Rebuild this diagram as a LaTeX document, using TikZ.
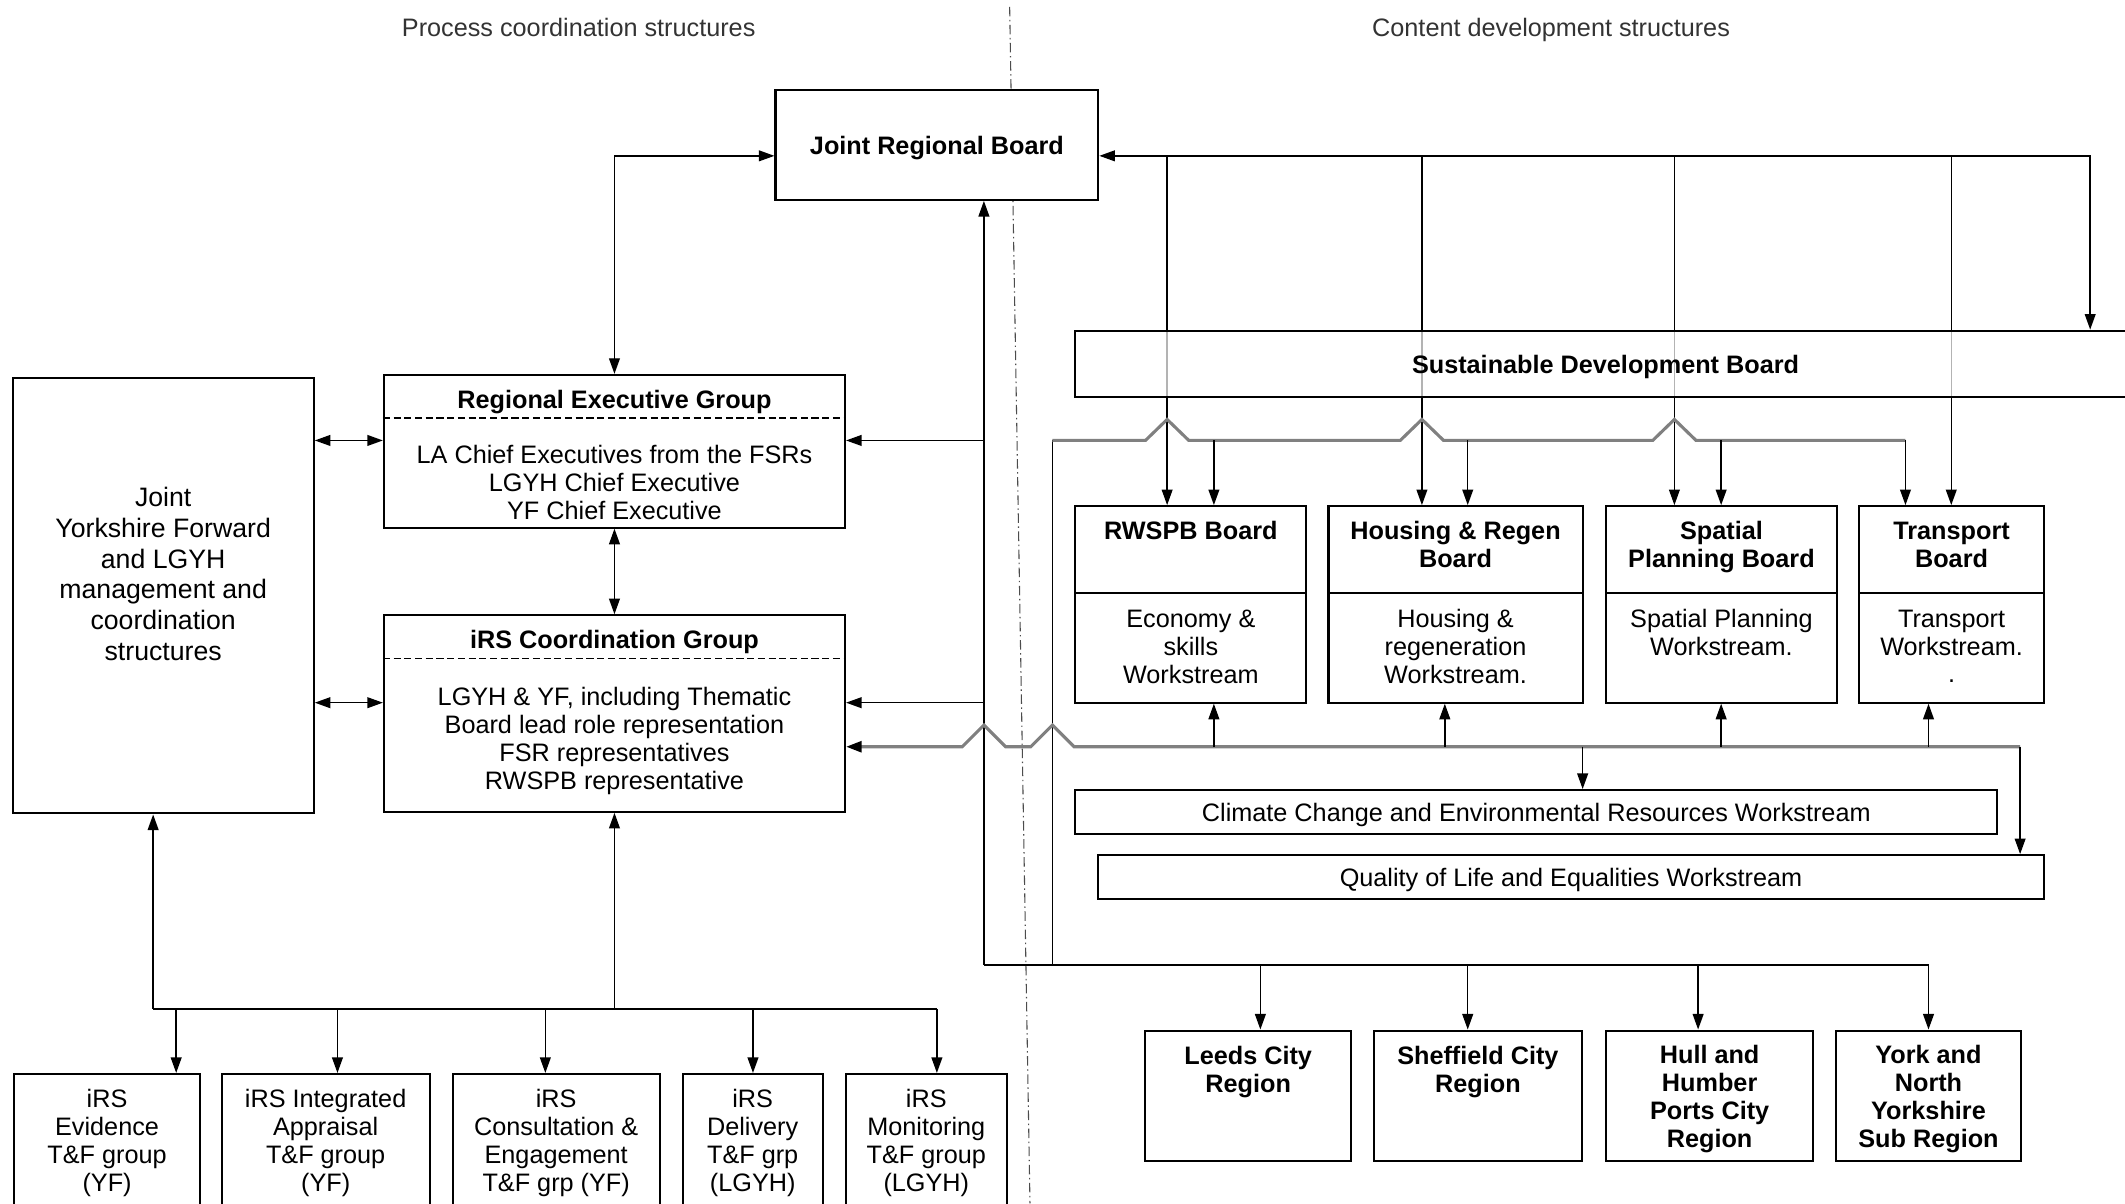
\documentclass[tikz,border=0pt]{standalone}
\usepackage{fontspec}
\setmainfont{Liberation Sans}
\usetikzlibrary{arrows.meta}
\pgfdeclarelayer{bg}
\pgfsetlayers{bg,main}

\begin{document}
\begin{tikzpicture}[x=0.02cm,y=-0.02cm,
    >={Triangle[length=2.3mm,width=1.6mm]},
    every node/.style={inner sep=0pt,align=center,text depth=0pt,font=\fontsize{10.6}{11.7}\selectfont},
    hd/.style={font=\fontsize{10.6}{11.7}\selectfont\bfseries},
    box/.style={draw,fill=white,line width=0.9pt},
    sz/.style 2 args={minimum width=#1*0.02cm,minimum height=#2*0.02cm},
    link/.style={line width=0.6pt},
    glink/.style={line width=1.3pt,black!50}]
  \useasboundingbox (0,0) rectangle (1568,888);
  \clip (0,0) rectangle (1568,888);
  \draw[black!70,line width=0.45pt,dash pattern=on 4pt off 1.5pt on 0.6pt off 1.5pt] (745,5) -- (760,888);

  \node[text=black!80] (ptitle) at (427,20) {Process coordination structures};
  \node[text=black!80] (ctitle) at (1144.5,20) {Content development structures};

  \node[box,sz={238.2}{81}] (jrb) at (691.3,107) {\bfseries Joint Regional Board};

  \node[box,sz={222.2}{321}] (joint) at (120.4,439.7) {};
  \node[font=\fontsize{11.2}{12.9}\selectfont] (jointt) at (120.4,423.5) {Joint\\Yorkshire Forward\\and LGYH\\management and\\coordination\\structures};

  \node[box,sz={340.2}{112.7}] (reg) at (453.4,333) {};
  \draw[line width=0.7pt,dash pattern=on 3pt off 1.5pt] (reg.west |- 0,308.5) -- (reg.east |- 0,308.5);
  \node[hd] (regt) at (453.4,294.6) {Regional Executive Group};
  \node (regb) at (453.4,356) {LA Chief Executives from the FSRs\\LGYH Chief Executive\\YF Chief Executive};

  \node[box,sz={340.2}{145}] (irs) at (453.4,526.5) {};
  \draw[line width=0.7pt,dash pattern=on 3pt off 1.5pt] (irs.west |- 0,486) -- (irs.east |- 0,486);
  \node[hd] (irst) at (453.4,471.6) {iRS Coordination Group};
  \node (irsb) at (453.4,545) {LGYH \& YF, including Thematic\\Board lead role representation\\FSR representatives\\RWSPB representative};

  \node[box,sz={137.2}{112.5}] (ev) at (79,848.75) {};
  \node[box,sz={153.4}{112.5}] (ia) at (240.3,848.75) {};
  \node[box,sz={152.7}{112.5}] (ce) at (410.4,848.75) {};
  \node[box,sz={103.2}{112.5}] (dl) at (555.4,848.75) {};
  \node[box,sz={119}{112.5}] (mo) at (683.5,848.75) {};
  \node (evt) at (79,841.3) {iRS\\Evidence\\T\&F group\\(YF)};
  \node (iat) at (240.3,841.3) {iRS Integrated\\Appraisal\\T\&F group\\(YF)};
  \node (cet) at (410.4,841.3) {iRS\\Consultation \&\\Engagement\\T\&F grp (YF)};
  \node (dlt) at (555.4,841.3) {iRS\\Delivery\\T\&F grp\\(LGYH)};
  \node (mot) at (683.5,841.3) {iRS\\Monitoring\\T\&F group\\(LGYH)};

  \node[box,sz={170.4}{145}] (rw) at (878.7,446) {};
  \node[box,sz={187.5}{145}] (hr) at (1074,446) {};
  \node[box,sz={170}{145}] (sp) at (1270.2,446) {};
  \node[box,sz={136}{145}] (tr) at (1440,446) {};
  \draw[line width=0.9pt] (rw.west |- 0,437.8) -- (rw.east |- 0,437.8);
  \draw[line width=0.9pt] (hr.west |- 0,437.8) -- (hr.east |- 0,437.8);
  \draw[line width=0.9pt] (sp.west |- 0,437.8) -- (sp.east |- 0,437.8);
  \draw[line width=0.9pt] (tr.west |- 0,437.8) -- (tr.east |- 0,437.8);
  \node[hd] (rwt) at (878.7,391.6) {RWSPB Board};
  \node[hd] (hrt) at (1074,401.8) {Housing \& Regen\\Board};
  \node[hd] (spt) at (1270.2,401.8) {Spatial\\Planning Board};
  \node[hd] (trt) at (1440,401.8) {Transport\\Board};
  \node (rwb) at (878.7,477) {Economy \&\\skills\\Workstream};
  \node (hrb) at (1074,477) {Housing \&\\regeneration\\Workstream.};
  \node (spb) at (1270.2,466.8) {Spatial Planning\\Workstream.};
  \node (trb) at (1440,477) {Transport\\Workstream.\\.};

  \node[box,fill opacity=0.7,text opacity=1,sz={782.5}{49}] (sdb) at (1184.7,268.5) {\bfseries Sustainable Development Board};
  \node[box,sz={680.2}{32.4}] (cc) at (1133.6,599.2) {Climate Change and Environmental Resources Workstream};
  \node[box,sz={697.7}{32.6}] (qol) at (1159.2,647.3) {Quality of Life and Equalities Workstream};

  \node[box,sz={152}{96.5}] (leeds) at (921,808.7) {};
  \node[box,sz={153}{96.5}] (sheff) at (1090.5,808.7) {};
  \node[box,sz={153}{96.5}] (hull) at (1261.5,808.7) {};
  \node[box,sz={136}{96.5}] (york) at (1423,808.7) {};
  \node[hd] (leedst) at (921,789.2) {Leeds City\\Region};
  \node[hd] (shefft) at (1090.5,789.2) {Sheffield City\\Region};
  \node[hd] (hullt) at (1261.5,809) {Hull and\\Humber\\Ports City\\Region};
  \node[hd] (yorkt) at (1423,809) {York and\\North\\Yorkshire\\Sub Region};

  \draw[link,<->] (reg.north) |- (jrb.west |- 0,115);
  \draw[link,<->] (joint.east |- 0,325) -- (reg.west |- 0,325);
  \draw[link,<->] (joint.east |- 0,518.5) -- (irs.west |- 0,518.5);
  \draw[link,<->] (reg.south) -- (irs.north);

  \coordinate (s1) at (726,712);
  \draw[link,->] (s1) -- (jrb.south -| s1);
  \draw[link,->] (s1 |- 0,325) -- (reg.east |- 0,325);
  \draw[link,->] (s1 |- 0,518.5) -- (irs.east |- 0,518.5);
  \draw[link] (s1) -- (1423,712);
  \draw[link,->] (930,712) -- (leeds.north -| 930,0);
  \draw[link,->] (1083,712) -- (sheff.north -| 1083,0);
  \draw[link,->] (1253,712) -- (hull.north -| 1253,0);
  \draw[link,->] (1423,712) -- (york.north -| 1423,0);

  \coordinate (s3) at (113,744.5);
  \draw[link,->] (s3) -- (joint.south -| s3);
  \draw[link,->] (irs.south |- s3) -- (irs.south);
  \draw[link] (s3) -- (691.3,744.5);
  \draw[link,->] (130,744.5) -- (ev.north -| 130,0);
  \draw[link,->] (249,744.5) -- (ia.north -| 249,0);
  \draw[link,->] (402.4,744.5) -- (ce.north -| 402.4,0);
  \draw[link,->] (555.6,744.5) -- (dl.north -| 555.6,0);
  \draw[link,->] (691.3,744.5) -- (mo.north -| 691.3,0);

  \begin{pgfonlayer}{bg}
    \draw[link,<->] (jrb.east |- 0,115) -| (sdb.north -| 1542.3,0);
    \draw[link,->] (861.2,115) -- (rw.north -| 861.2,0);
    \draw[link,->] (1049.2,115) -- (hr.north -| 1049.2,0);
    \draw[link,->] (1235.5,115) -- (sp.north -| 1235.5,0);
    \draw[link,->] (1439.8,115) -- (tr.north -| 1439.8,0);
  \end{pgfonlayer}

  \coordinate (s2) at (776.6,712);
  \draw[link] (s2) -- (s2 |- 0,325);
  \draw[glink] (s2 |- 0,325) -- (845.2,325) -- (861.2,309.5) -- (877.2,325) -- (1033.2,325) -- (1049.2,309.5) -- (1065.2,325) -- (1219.5,325) -- (1235.5,309.5) -- (1251.5,325) -- (1406,325);
  \draw[link,->] (1406,325) -- (tr.north -| 1406,0);
  \draw[link,->] (895.7,325) -- (rw.north -| 895.7,0);
  \draw[link,->] (1083,325) -- (hr.north -| 1083,0);
  \draw[link,->] (1270,325) -- (sp.north -| 1270,0);

  \draw[glink,-{Triangle[length=2.3mm,width=1.6mm,color=black]}] (1490.6,551) -- (792.6,551) -- (776.6,535) -- (760.6,551) -- (742,551) -- (726,535) -- (710,551) -- (irs.east |- 0,551);
  \draw[link,->] (1490.6,551) -- (qol.north -| 1490.6,0);
  \draw[link,->] (895.7,551) -- (rw.south -| 895.7,0);
  \draw[link,->] (1066.1,551) -- (hr.south -| 1066.1,0);
  \draw[link,->] (1270,551) -- (sp.south -| 1270,0);
  \draw[link,->] (1423,551) -- (tr.south -| 1423,0);
  \draw[link,->] (1167.8,551) -- (cc.north -| 1167.8,0);
\end{tikzpicture}
\end{document}
